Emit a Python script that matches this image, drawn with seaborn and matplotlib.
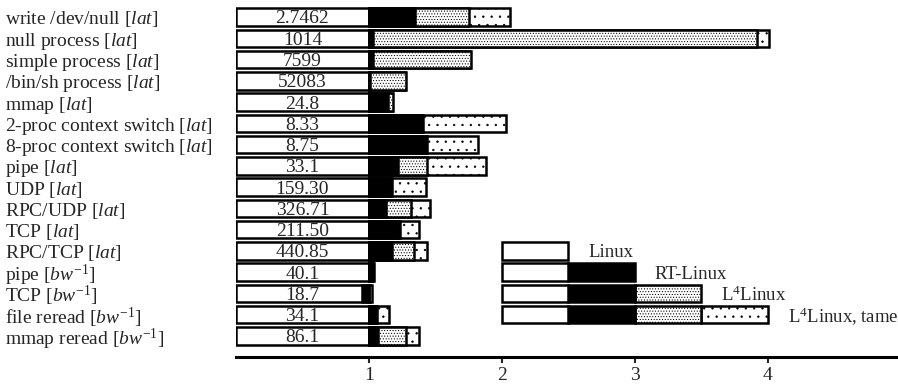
import matplotlib
matplotlib.use("Agg")
import matplotlib.pyplot as plt
import seaborn as sns
import pandas as pd

# --- Daten (normiert auf Linux = 1) ---
BENCHMARKS = [
    r"write /dev/null [$\mathit{lat}$]",
    r"null process [$\mathit{lat}$]",
    r"simple process [$\mathit{lat}$]",
    r"/bin/sh process [$\mathit{lat}$]",
    r"mmap [$\mathit{lat}$]",
    r"2-proc context switch [$\mathit{lat}$]",
    r"8-proc context switch [$\mathit{lat}$]",
    r"pipe [$\mathit{lat}$]",
    r"UDP [$\mathit{lat}$]",
    r"RPC/UDP [$\mathit{lat}$]",
    r"TCP [$\mathit{lat}$]",
    r"RPC/TCP [$\mathit{lat}$]",
    r"pipe [$\mathit{bw}^{-1}$]",
    r"TCP [$\mathit{bw}^{-1}$]",
    r"file reread [$\mathit{bw}^{-1}$]",
    r"mmap reread [$\mathit{bw}^{-1}$]",
]
LINUX_ABS = ["2.7462", "1014", "7599", "52083", "24.8", "8.33", "8.75", "33.1",
             "159.30", "326.71", "211.50", "440.85", "40.1", "18.7", "34.1", "86.1"]
LINUX = [1.0] * 16
RT_LINUX = [1.35, 1.03, 1.03, 1.01, 1.14, 1.41, 1.44, 1.22,
            1.17, 1.13, 1.23, 1.17, 1.04, 0.95, 1.05, 1.07]
L4_LINUX = [1.75, 3.92, 1.77, 1.28, 1.18, 1.40, 1.43, 1.44,
            1.16, 1.32, 1.22, 1.34, 1.03, 1.02, 1.06, 1.28]
L4_TAME = [2.06, 4.01, 1.76, 1.27, 1.17, 2.03, 1.82, 1.88,
           1.43, 1.46, 1.38, 1.44, 1.02, 1.01, 1.15, 1.38]

LEGEND_NAMES = ["Linux", "RT-Linux", r"L$^4$Linux", r"L$^4$Linux, tame"]
LEGEND_ROW = 11  # Legende beginnt bei Zeile RPC/TCP

# Stil je System: (Farbe, Hatch)
STYLES = [("white", None), ("black", None), ("white", "......"), ("white", "..")]

sns.set_style("white")
plt.rcParams["font.family"] = ["Liberation Serif", "DejaVu Serif"]
plt.rcParams["mathtext.fontset"] = "custom"
plt.rcParams["mathtext.rm"] = "Liberation Serif"
plt.rcParams["mathtext.it"] = "Liberation Serif:italic"
plt.rcParams["hatch.linewidth"] = 0.45
plt.rcParams["hatch.color"] = "black"

FS = 14
LW = 1.8
H = 0.82

fig = plt.figure(figsize=(8.98, 3.87), dpi=100)
ax = fig.add_axes([236 / 898, 1 - 357 / 387, 1 - 236 / 898, 352 / 387])

df = pd.DataFrame({"bench": BENCHMARKS, "linux": LINUX})
sns.barplot(data=df, x="linux", y="bench", orient="h", color="white", saturation=1,
            edgecolor="black", linewidth=LW, width=H, ax=ax)

# weitere Systeme ab 1: tame hinten, dann L4Linux, RT-Linux vorne
series = [(L4_TAME, 3), (L4_LINUX, 2), (RT_LINUX, 1)]
for i in range(len(BENCHMARKS)):
    for vals, k in series:
        col, hatch = STYLES[k]
        ax.barh(i, vals[i] - 1, left=1, height=H, color=col, hatch=hatch,
                edgecolor="black", linewidth=LW)
    ax.text(0.5, i, LINUX_ABS[i], ha="center", va="center_baseline", fontsize=FS)

# Legende als Balken
for j, name in enumerate(LEGEND_NAMES):
    row = LEGEND_ROW + j
    for k in range(j, -1, -1):
        col, hatch = STYLES[k]
        ax.barh(row, 0.5, left=2 + 0.5 * k, height=H, color=col, hatch=hatch,
                edgecolor="black", linewidth=LW)
    ax.text(2.5 + 0.5 * j + 0.15, row, name, ha="left", va="center_baseline",
            fontsize=13.5)

ax.set_xlim(0, 4.98)
ax.set_ylim(15.99, -0.564)
ax.set_xlabel("")
ax.set_ylabel("")
ax.set_xticks([1, 2, 3, 4])
ax.set_xticklabels(["1", "2", "3", "4"], fontsize=FS)
ax.tick_params(axis="x", direction="out", length=4, width=1.5, pad=3, bottom=True)
ax.tick_params(axis="y", length=0, pad=166)
for lab in ax.get_yticklabels():
    lab.set_horizontalalignment("left")
    lab.set_fontsize(FS)

for s in ["left", "top", "right"]:
    ax.spines[s].set_visible(False)
ax.spines["bottom"].set_linewidth(2.2)
ax.spines["bottom"].set_color("black")

fig.savefig("out.png", dpi=100)
